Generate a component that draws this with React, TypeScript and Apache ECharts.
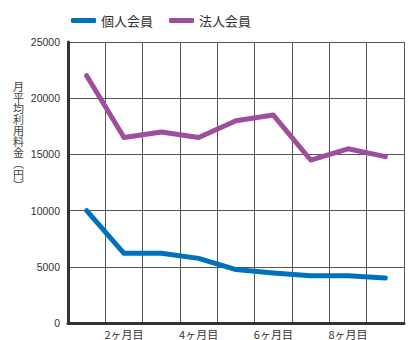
import React, { useEffect, useRef } from "react";
import * as echarts from "echarts";

const categories = ["1ヶ月目", "2ヶ月目", "3ヶ月目", "4ヶ月目", "5ヶ月目", "6ヶ月目", "7ヶ月目", "8ヶ月目", "9ヶ月目"];
const kojinValues = [10000, 6200, 6200, 5750, 4750, 4450, 4200, 4200, 4000];
const hojinValues = [22000, 16500, 17000, 16500, 18000, 18500, 14500, 15500, 14800];
const seriesNames = ["個人会員", "法人会員"];
const yAxisName = "月平均利用料金(円)";

const FONT = "'Noto Sans CJK JP', 'Noto Sans', sans-serif";

export default function App() {
  const ref = useRef<HTMLDivElement>(null);
  useEffect(() => {
    if (!ref.current) return;
    const chart = echarts.init(ref.current, undefined, { renderer: "svg" });
    const verticalName = yAxisName.replace("(", "︵").replace(")", "︶").split("").join("\n");
    chart.setOption({
      animation: false,
      textStyle: { fontFamily: FONT },
      legend: {
        left: 66,
        top: 9,
        itemWidth: 25,
        itemHeight: 5,
        itemGap: 16,
        icon: "roundRect",
        textStyle: { fontSize: 13, color: "#333", fontFamily: FONT },
        data: seriesNames,
      },
      grid: { left: 68, right: 10, top: 42, bottom: 17, containLabel: false },
      graphic: [
        {
          type: "text",
          left: 13,
          top: 81,
          style: {
            text: verticalName,
            fontSize: 11,
            lineHeight: 11,
            fill: "#444",
            fontFamily: "'Liberation Sans', 'Noto Sans CJK JP', sans-serif",
            align: "center",
          },
        },
      ],
      xAxis: {
        type: "category",
        data: categories,
        boundaryGap: true,
        axisLine: { show: true, lineStyle: { color: "#333", width: 3 } },
        axisTick: { show: false },
        axisLabel: {
          interval: (i: number) => i % 2 === 1,
          color: "#333",
          fontSize: 11,
          margin: 5,
          fontFamily: FONT,
        },
        splitLine: { show: true, interval: 0, lineStyle: { color: "#555", width: 1 } },
      },
      yAxis: {
        type: "value",
        min: 0,
        max: 25000,
        interval: 5000,
        axisLine: { show: true, lineStyle: { color: "#333", width: 3 } },
        axisTick: { show: false },
        axisLabel: {
          color: "#333",
          fontSize: 10.5,
          margin: 8,
          fontFamily: "'Liberation Sans', Arial, sans-serif",
          formatter: (v: number) => String(v),
        },
        splitLine: { show: true, lineStyle: { color: "#555", width: 1 } },
      },
      series: [
        {
          name: seriesNames[0],
          type: "line",
          data: kojinValues,
          symbol: "none",
          lineStyle: { color: "#0071bc", width: 5, cap: "round", join: "round" },
          itemStyle: { color: "#0071bc" },
        },
        {
          name: seriesNames[1],
          type: "line",
          data: hojinValues,
          symbol: "none",
          lineStyle: { color: "#9b4f9c", width: 5, cap: "round", join: "round" },
          itemStyle: { color: "#9b4f9c" },
        },
      ],
    });
    return () => chart.dispose();
  }, []);
  return (
    <div
      ref={ref}
      style={{ position: "absolute", left: 0, top: 0, width: 414, height: 340 }}
    />
  );
}
